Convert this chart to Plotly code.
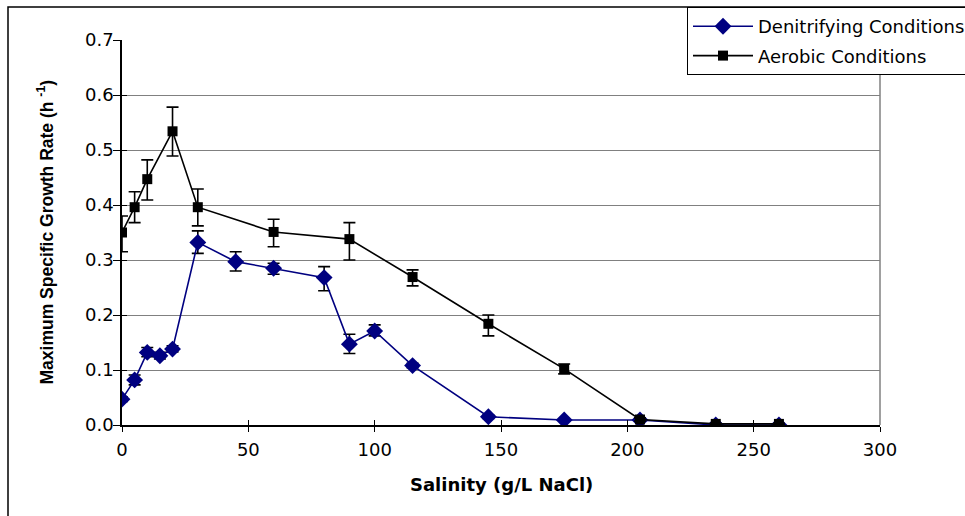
import plotly.graph_objects as go

# ---- data ----
salinity_denit = [0, 5, 10, 15, 20, 30, 45, 60, 80, 90, 100, 115, 145, 175, 205, 235, 260]
growth_denit = [0.047, 0.082, 0.132, 0.126, 0.138, 0.332, 0.297, 0.285, 0.268, 0.147, 0.171,
                0.108, 0.015, 0.009, 0.009, 0.000, 0.000]
err_denit_plus = [0.004, 0.009, 0.009, 0.006, 0.006, 0.021, 0.018, 0.009, 0.020, 0.018, 0.011,
                  0.004, 0.003, 0.002, 0.002, 0.000, 0.000]
err_denit_minus = [0.004, 0.009, 0.008, 0.006, 0.005, 0.020, 0.017, 0.011, 0.024, 0.017, 0.009,
                   0.004, 0.003, 0.002, 0.002, 0.000, 0.000]

salinity_aer = [0, 5, 10, 20, 30, 60, 90, 115, 145, 175, 205, 235, 260]
growth_aer = [0.350, 0.396, 0.447, 0.534, 0.396, 0.351, 0.338, 0.269, 0.184, 0.102, 0.010, 0.002, 0.002]
err_aer_plus = [0.030, 0.028, 0.035, 0.044, 0.033, 0.023, 0.030, 0.013, 0.016, 0.009, 0.003, 0.001, 0.001]
err_aer_minus = [0.035, 0.028, 0.038, 0.045, 0.034, 0.027, 0.038, 0.016, 0.022, 0.009, 0.003, 0.001, 0.001]

series_names = ["Denitrifying Conditions", "Aerobic Conditions"]
x_title = "Salinity (g/L NaCl)"
y_title = "Maximum Specific Growth Rate (h <sup>-1</sup>)"

FONT = "DejaVu Sans, Verdana, sans-serif"
FONT_Y = "Arial, Liberation Sans, sans-serif"
W, H = 965, 516
ML, MR, MT, MB = 122, 85, 40, 91
PW = W - ML - MR
PH = H - MT - MB

def px_x(p):
    return (p - ML) / PW

def px_y(p):
    return (H - MB - p) / PH

fig = go.Figure()

fig.add_trace(go.Scatter(
    x=salinity_denit, y=growth_denit, name=series_names[0], legendgroup="d",
    mode="lines+markers",
    line=dict(color="#000080", width=1.6),
    marker=dict(symbol="diamond", size=13, color="#000080"),
    error_y=dict(type="data", symmetric=False, array=err_denit_plus, arrayminus=err_denit_minus,
                 color="black", thickness=1.6, width=6),
))
fig.add_trace(go.Scatter(
    x=salinity_aer, y=growth_aer, name=series_names[1], legendgroup="a",
    mode="lines+markers",
    line=dict(color="black", width=1.6),
    marker=dict(symbol="square", size=10, color="black"),
    error_y=dict(type="data", symmetric=False, array=err_aer_plus, arrayminus=err_aer_minus,
                 color="black", thickness=1.6, width=6),
))
# empty trace to carry the overlay axes (inner half of the crossing ticks)
fig.add_trace(go.Scatter(x=[None], y=[None], xaxis="x2", yaxis="y2", showlegend=False,
                         hoverinfo="skip", mode="markers"))

fig.update_layout(
    width=W, height=H,
    margin=dict(l=ML, r=MR, t=MT, b=MB, autoexpand=False),
    paper_bgcolor="white", plot_bgcolor="white",
    font=dict(family=FONT, size=18, color="black"),
    showlegend=True,
    legend=dict(
        x=px_x(687), y=px_y(7), xanchor="left", yanchor="top",
        bgcolor="white", bordercolor="black", borderwidth=1,
        font=dict(family=FONT, size=18, color="black"),
        tracegroupgap=3, itemwidth=60,
    ),
    xaxis=dict(
        range=[0, 300], dtick=50, tick0=0,
        showline=True, linecolor="black", linewidth=1.5,
        ticks="outside", ticklen=5, tickcolor="black", tickwidth=1,
        showgrid=False, zeroline=False, ticklabelstandoff=3,
        tickfont=dict(family=FONT, size=18, color="black"),
    ),
    yaxis=dict(
        range=[0, 0.7], dtick=0.1, tick0=0, tickformat=".1f",
        showline=True, linecolor="black", linewidth=1.5,
        ticks="outside", ticklen=7, tickcolor="black", tickwidth=1,
        showgrid=True, gridcolor="#808080", gridwidth=1, zeroline=False,
        ticklabelstandoff=-4,
        tickfont=dict(family=FONT, size=18, color="black"),
    ),
    xaxis2=dict(
        overlaying="x", anchor="y", range=[0, 300], dtick=50, tick0=0,
        ticks="inside", ticklen=5, tickcolor="black", tickwidth=1,
        showticklabels=False, showgrid=False, zeroline=False, showline=False,
    ),
    yaxis2=dict(
        overlaying="y", anchor="x", side="left", range=[0, 0.7], dtick=0.1, tick0=0,
        ticks="inside", ticklen=5, tickcolor="black", tickwidth=1,
        showticklabels=False, showgrid=False, zeroline=False, showline=False,
    ),
    shapes=[
        # right border of the plot area
        dict(type="line", xref="paper", yref="paper", x0=1, x1=1, y0=0, y1=1,
             line=dict(color="#808080", width=1.5)),
        # outer chart frame (extends beyond the visible window)
        dict(type="rect", xref="paper", yref="paper", layer="below",
             x0=px_x(8), x1=px_x(1000), y0=px_y(560), y1=px_y(7),
             line=dict(color="black", width=1.5), fillcolor="rgba(0,0,0,0)"),
    ],
    annotations=[
        dict(text=x_title, xref="paper", yref="paper", x=0.5, y=px_y(484),
             xanchor="center", yanchor="middle", showarrow=False,
             font=dict(family=FONT, size=18, color="black", weight="bold")),
        dict(text=y_title, xref="paper", yref="paper", x=px_x(45), y=0.5, textangle=-90,
             xanchor="center", yanchor="middle", showarrow=False,
             font=dict(family=FONT_Y, size=17.5, color="black", weight="bold")),
    ],
)

fig.write_html("out.html", config={"displayModeBar": False},
               post_script="document.body.style.margin='0';")
